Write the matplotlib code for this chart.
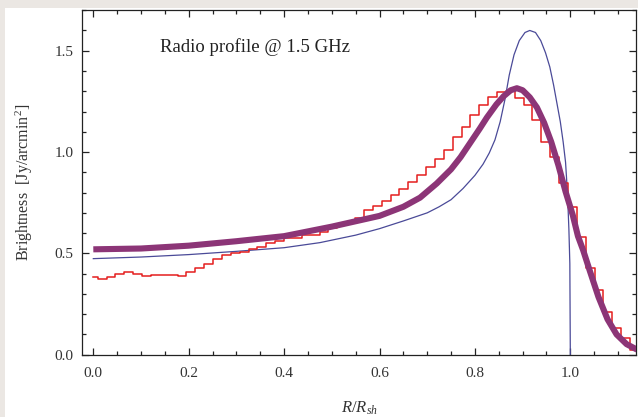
import numpy as np
import matplotlib
matplotlib.use("Agg")
import matplotlib.pyplot as plt
from matplotlib.patches import Rectangle
from matplotlib.ticker import MultipleLocator

plt.rcParams['font.family'] = ['Liberation Serif', 'DejaVu Serif']
plt.rcParams['mathtext.fontset'] = 'custom'
plt.rcParams['mathtext.rm'] = 'Liberation Serif'
plt.rcParams['mathtext.it'] = 'Liberation Serif:italic'

# data: radio profile
# red histogram (observed), bins of ~0.0186 in R/R_sh
bin_width = 0.0186
obs_vals = [0.383, 0.375, 0.385, 0.400, 0.408, 0.398, 0.390, 0.393, 0.393, 0.393,
            0.388, 0.410, 0.426, 0.448, 0.470, 0.494, 0.503, 0.507, 0.520, 0.533,
            0.550, 0.560, 0.575, 0.575, 0.590, 0.590, 0.607, 0.625, 0.640, 0.656,
            0.673, 0.714, 0.735, 0.760, 0.790, 0.820, 0.850, 0.885, 0.925, 0.965,
            1.010, 1.076, 1.125, 1.183, 1.232, 1.270, 1.298, 1.300, 1.266, 1.232,
            1.158, 1.050, 0.977, 0.847, 0.730, 0.582, 0.430, 0.320, 0.212, 0.130,
            0.082, 0.023]
obs_r = np.arange(len(obs_vals)) * bin_width

# thick purple model
fit_r = [0, 0.1, 0.2, 0.3, 0.4, 0.5, 0.6, 0.65, 0.685, 0.72, 0.75, 0.77, 0.79,
         0.81, 0.825, 0.845, 0.86, 0.875, 0.888, 0.9, 0.915, 0.93, 0.945, 0.96,
         0.975, 0.99, 1.005, 1.016, 1.027, 1.04, 1.059, 1.078, 1.097, 1.118, 1.14]
fit_b = [0.52, 0.524, 0.538, 0.56, 0.585, 0.632, 0.685, 0.73, 0.775, 0.845, 0.915,
         0.975, 1.045, 1.115, 1.17, 1.235, 1.275, 1.305, 1.315, 1.305, 1.27, 1.22,
         1.145, 1.05, 0.935, 0.805, 0.69, 0.585, 0.515, 0.42, 0.285, 0.175, 0.1,
         0.052, 0.025]

# thin blue model (sharp edge at the shock)
shell_r = [0, 0.1, 0.2, 0.3, 0.4, 0.475, 0.55, 0.6, 0.65, 0.7, 0.725, 0.75, 0.775,
           0.8, 0.817, 0.83, 0.842, 0.853, 0.863, 0.872, 0.882, 0.893, 0.905, 0.915,
           0.927, 0.938, 0.948, 0.957, 0.965, 0.972, 0.979, 0.985, 0.99, 0.994,
           0.997, 0.999, 1.0]
shell_b = [0.474, 0.482, 0.494, 0.51, 0.528, 0.553, 0.59, 0.622, 0.66, 0.70, 0.73,
           0.765, 0.82, 0.885, 0.94, 0.995, 1.06, 1.15, 1.26, 1.38, 1.48, 1.55, 1.59,
           1.60, 1.59, 1.55, 1.49, 1.42, 1.33, 1.24, 1.15, 1.05, 0.95, 0.80, 0.62,
           0.45, 0.0]

fig = plt.figure(figsize=(6.38, 4.17), dpi=100)
fig.patch.set_facecolor('white')
# grey page border on top and left
fig.patches.append(Rectangle((0, 1 - 8 / 417), 1, 8 / 417, transform=fig.transFigure,
                             facecolor='#ebe7e3', edgecolor='none', zorder=-1))
fig.patches.append(Rectangle((0, 0), 5 / 638, 1, transform=fig.transFigure,
                             facecolor='#ebe7e3', edgecolor='none', zorder=-1))

ax = fig.add_axes([82 / 638, 1 - 354.7 / 417, (636 - 82) / 638, (354.7 - 10) / 417])
ax.set_facecolor('white')

ax.plot(shell_r, shell_b, color='#4a4a98', lw=0.9, zorder=2)
ax.step(obs_r, obs_vals, where='mid', color='#e41e1e', lw=1.1, zorder=3)
ax.plot(fit_r, fit_b, color='#8c3577', lw=4.4, solid_capstyle='butt',
        solid_joinstyle='round', zorder=4)

ax.set_xlim(-0.0237, 1.1377)
ax.set_ylim(0, 1.701)
ax.xaxis.set_major_locator(MultipleLocator(0.2))
ax.xaxis.set_minor_locator(MultipleLocator(0.05))
ax.yaxis.set_major_locator(MultipleLocator(0.5))
ax.yaxis.set_minor_locator(MultipleLocator(0.1))
ax.xaxis.set_major_formatter(lambda v, p: f"{v:.1f}")
ax.yaxis.set_major_formatter(lambda v, p: f"{v:.1f}")

ax.tick_params(which='both', direction='in', top=True, right=True, color='#222222',
               labelsize=11, labelcolor='#333333', width=0.9)
ax.tick_params(which='major', length=5)
ax.tick_params(which='minor', length=2.8)
ax.tick_params(axis='x', pad=9)
ax.tick_params(axis='y', pad=6)
for s in ax.spines.values():
    s.set_color('#222222')
    s.set_linewidth(0.9)

ax.text(0.14, 1.52, 'Radio profile @ 1.5 GHz', fontsize=13.5, color='#222222',
        va='center', ha='left')
ax.set_ylabel('Brightness  [Jy/arcmin$^2$]', fontsize=11.5, color='#333333', labelpad=14)
ax.set_xlabel('$R/R_{sh}$', fontsize=12, color='#333333', labelpad=14)

fig.savefig('out.png', dpi=100, facecolor=fig.get_facecolor())
